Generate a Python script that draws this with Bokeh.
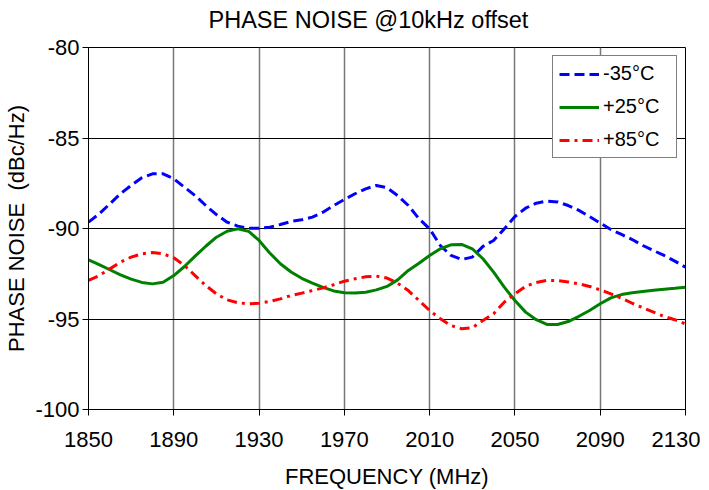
from bokeh.plotting import figure
from bokeh.models import Range1d, FixedTicker, Legend, LegendItem, ColumnDataSource
from bokeh.embed import file_html
from bokeh.resources import INLINE

freq = [1850, 1855, 1860, 1865, 1870, 1875, 1880, 1885, 1890, 1895, 1900, 1905, 1910, 1915,
        1920, 1925, 1930, 1935, 1940, 1945, 1950, 1955, 1960, 1965, 1970, 1975, 1980, 1985,
        1990, 1995, 2000, 2005, 2010, 2015, 2020, 2025, 2030, 2035, 2040, 2045, 2050, 2055,
        2060, 2065, 2070, 2075, 2080, 2085, 2090, 2095, 2100, 2105, 2110, 2115, 2120, 2125, 2130]
minus35 = [-89.65, -89.19, -88.64, -88.08, -87.62, -87.20, -86.98, -86.98, -87.25, -87.72,
           -88.18, -88.73, -89.23, -89.65, -89.87, -89.98, -89.98, -89.93, -89.78, -89.61,
           -89.52, -89.37, -89.10, -88.73, -88.40, -88.08, -87.81, -87.62, -87.75, -88.18,
           -88.73, -89.46, -90.02, -90.94, -91.49, -91.71, -91.58, -90.99, -90.66, -90.02,
           -89.34, -88.88, -88.60, -88.49, -88.53, -88.73, -89.00, -89.34, -89.70, -90.06,
           -90.33, -90.61, -90.94, -91.22, -91.49, -91.80, -92.14]
plus25 = [-91.73, -92.00, -92.28, -92.56, -92.80, -92.98, -93.06, -92.97, -92.60, -92.10,
          -91.53, -90.98, -90.48, -90.15, -90.02, -90.15, -90.66, -91.35, -91.95, -92.40,
          -92.75, -93.02, -93.25, -93.45, -93.55, -93.57, -93.52, -93.39, -93.20, -92.84,
          -92.32, -91.92, -91.49, -91.12, -90.90, -90.88, -91.12, -91.67, -92.41, -93.24,
          -93.98, -94.62, -95.04, -95.30, -95.30, -95.14, -94.85, -94.53, -94.16, -93.83,
          -93.65, -93.55, -93.48, -93.41, -93.35, -93.30, -93.24]
plus85 = [-92.87, -92.60, -92.23, -91.86, -91.58, -91.40, -91.33, -91.40, -91.62, -92.04,
          -92.60, -93.15, -93.61, -93.94, -94.10, -94.16, -94.13, -94.03, -93.89, -93.70,
          -93.57, -93.43, -93.28, -93.11, -92.91, -92.78, -92.67, -92.63, -92.74, -93.02,
          -93.43, -93.98, -94.53, -94.99, -95.36, -95.54, -95.49, -95.08, -94.71, -94.07,
          -93.61, -93.20, -92.98, -92.87, -92.87, -92.95, -93.06, -93.20, -93.39, -93.61,
          -93.85, -94.13, -94.38, -94.62, -94.86, -95.04, -95.27]
x_ticks = [1850, 1890, 1930, 1970, 2010, 2050, 2090, 2130]
y_ticks = [-100, -95, -90, -85, -80]
y_tick_labels = ["-100", "-95", "-90", "-85", "-80"]
labels = ["-35°C", "+25°C", "+85°C"]
title_text = "PHASE NOISE @10kHz offset"

FONT = "Liberation Sans"

# 10px of blank border at the top is shifted out of view with a negative margin,
# so the title can sit higher above the frame.
p = figure(width=700, height=501, output_backend="svg", toolbar_location=None,
           x_range=Range1d(1850, 2130), y_range=Range1d(-100, -80),
           min_border_left=88, min_border_right=15, min_border_top=57, min_border_bottom=77)
p.margin = (-10, 0, 0, 0)

p.title.text = title_text
p.title.text_font = FONT
p.title.text_font_size = "23.5px"
p.title.text_font_style = "normal"
p.title.align = "left"
p.title.offset = 120
p.title.standoff = 29
p.title.text_color = "black"

src = ColumnDataSource(dict(x=freq, a=minus35, b=plus25, c=plus85))
r1 = p.line("x", "a", source=src, line_color="blue", line_width=3, line_dash="10 5")
r2 = p.line("x", "b", source=src, line_color="green", line_width=3)
r3 = p.line("x", "c", source=src, line_color="red", line_width=3, line_dash="10 5 3 5")

for ax in (p.xaxis[0], p.yaxis[0]):
    ax.major_label_text_font = FONT
    ax.major_label_text_font_size = "22px"
    ax.major_label_text_color = "black"
    ax.axis_label_text_font = FONT
    ax.axis_label_text_font_size = "22px"
    ax.axis_label_text_font_style = "normal"
    ax.axis_label_text_color = "black"
    ax.axis_line_color = "black"
    ax.major_tick_line_color = "black"
    ax.major_tick_out = 6
    ax.major_tick_in = 0
    ax.minor_tick_line_color = None

p.xaxis.ticker = FixedTicker(ticks=x_ticks)
p.yaxis.ticker = FixedTicker(ticks=y_ticks)
p.yaxis.major_label_overrides = {t: s for t, s in zip(y_ticks, y_tick_labels)}
p.xaxis.axis_label = "FREQUENCY (MHz)"
p.yaxis.axis_label = "PHASE NOISE\u00a0 (dBc/Hz)"
p.xaxis.major_label_standoff = 16
p.xaxis.axis_label_standoff = 14
p.yaxis.major_label_standoff = 3
p.yaxis.axis_label_standoff = 3

p.xgrid.grid_line_color = "#777777"
p.xgrid.grid_line_width = 1.5
p.xgrid.ticker = FixedTicker(ticks=x_ticks)
p.ygrid.grid_line_color = "black"
p.ygrid.grid_line_width = 1
p.ygrid.ticker = FixedTicker(ticks=y_ticks)

p.outline_line_color = "black"
p.outline_line_width = 1
p.background_fill_color = "white"
p.border_fill_color = "white"

legend = Legend(items=[LegendItem(label=labels[0], renderers=[r1]),
                       LegendItem(label=labels[1], renderers=[r2]),
                       LegendItem(label=labels[2], renderers=[r3])],
                location="top_right")
legend.margin = 8
legend.padding = 6
legend.spacing = 10
legend.glyph_width = 40
legend.glyph_height = 10
legend.label_height = 10
legend.label_width = 67
legend.label_standoff = 4
legend.label_text_font = FONT
legend.label_text_font_size = "20px"
legend.label_text_color = "black"
legend.border_line_color = "black"
legend.border_line_width = 1
legend.background_fill_alpha = 1
p.add_layout(legend)

open("out.html", "w").write(file_html(p, INLINE))
